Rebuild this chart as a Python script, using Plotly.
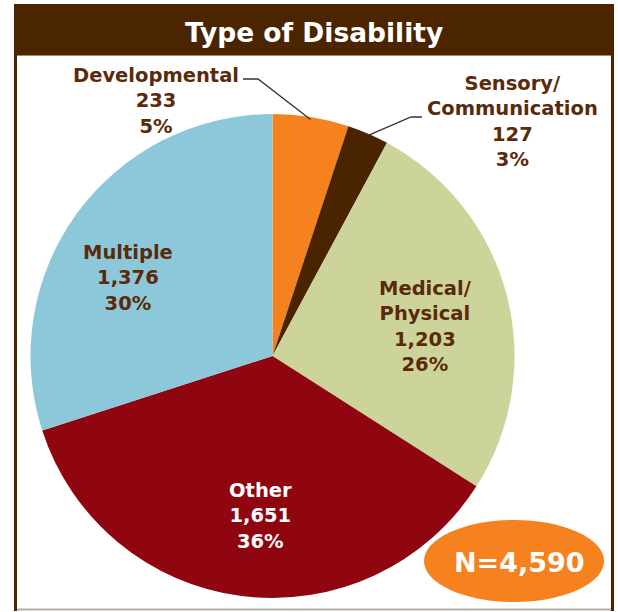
import math
import plotly.graph_objs as go

# data
categories = ['Developmental', 'Sensory/<br>Communication', 'Medical/<br>Physical', 'Other', 'Multiple']
counts = [233, 127, 1203, 1651, 1376]
colors = ['#F5821F', '#4A2400', '#CDD49A', '#8F0610', '#8CC8DA']
label_colors = ['#5A2A0A', '#5A2A0A', '#5A2A0A', '#FFFFFF', '#5A2A0A']

W, H = 618, 612
total = sum(counts)

# pie geometry in pixels
cx, cy, r = 272.5, 356, 242

def px(x):
    return x / W

def py(y):
    return 1 - y / H

# label centres (pixels) for each slice
label_pos = [(156, 101), (512, 122), (425, 326), (260, 516), (128, 278)]

pie = go.Pie(
    labels=[c.replace('<br>', ' ') for c in categories],
    values=counts,
    sort=False,
    direction='clockwise',
    rotation=0,
    marker=dict(colors=colors, line=dict(width=0)),
    textinfo='none',
    hoverinfo='label+value+percent',
    showlegend=False,
    domain=dict(x=[px(cx - r), px(cx + r)], y=[py(cy + r), py(cy - r)])
)

annotations = []
for cat, n, col, (lx, ly) in zip(categories, counts, label_colors, label_pos):
    pct = round(100 * n / total)
    annotations.append(dict(
        x=px(lx), y=py(ly), xref='paper', yref='paper',
        text=f'{cat}<br>{n:,}<br>{pct}%',
        showarrow=False, xanchor='center', yanchor='middle', align='center',
        font=dict(family='DejaVu Sans', size=19.5, color=col, weight='bold')
    ))

# title
annotations.append(dict(
    x=px(314), y=py(32), xref='paper', yref='paper', text='Type of Disability',
    showarrow=False, xanchor='center', yanchor='middle',
    font=dict(family='DejaVu Sans', size=26.5, color='white', weight='bold')
))

# N badge text
annotations.append(dict(
    x=px(519), y=py(562), xref='paper', yref='paper', text=f'N={total:,}',
    showarrow=False, xanchor='center', yanchor='middle',
    font=dict(family='DejaVu Sans', size=27, color='white', weight='bold')
))

def edge_point(i, frac=1.0):
    before = sum(counts[:i])
    mid = (before + counts[i] / 2) / total * 2 * math.pi
    return cx + r * frac * math.sin(mid), cy - r * frac * math.cos(mid)

brown = '#4A2500'
shapes = [
    # title bar
    dict(type='rect', xref='paper', yref='paper', x0=px(14), x1=px(614), y0=py(55), y1=py(4),
         fillcolor=brown, line=dict(width=0), layer='below'),
    dict(type='line', xref='paper', yref='paper', x0=px(17), x1=px(611), y0=py(55.5), y1=py(55.5),
         line=dict(color='#A88A6A', width=1)),
    # side borders
    dict(type='line', xref='paper', yref='paper', x0=px(15.5), x1=px(15.5), y0=py(55), y1=py(611),
         line=dict(color=brown, width=3)),
    dict(type='line', xref='paper', yref='paper', x0=px(612.5), x1=px(612.5), y0=py(55), y1=py(611),
         line=dict(color=brown, width=3)),
    dict(type='line', xref='paper', yref='paper', x0=px(17), x1=px(611), y0=py(609.5), y1=py(609.5),
         line=dict(color='#B5ADA5', width=2)),
    # N badge
    dict(type='circle', xref='paper', yref='paper', x0=px(424), x1=px(604), y0=py(602), y1=py(520),
         fillcolor='#F5821F', line=dict(width=0)),
]

# leader lines for the two small slices: (slice index, text end x, text end y, knee x)
leaders = [(0, 243, 79, 258), (1, 422, 117, 411)]
for i, x0, y0, k in leaders:
    ex, ey = edge_point(i, 0.99)
    path = f'M {px(x0)} {py(y0)} L {px(k)} {py(y0)} L {px(ex)} {py(ey)}'
    shapes.append(dict(type='path', xref='paper', yref='paper', path=path,
                       line=dict(color='#333333', width=1.3)))

layout = go.Layout(
    width=W, height=H,
    margin=dict(l=0, r=0, t=0, b=0),
    paper_bgcolor='white',
    annotations=annotations,
    shapes=shapes
)

fig = go.Figure(data=[pie], layout=layout)
# drop the default page margin so the figure sits at the window's top-left corner
fig.write_html('out.html', config={'displayModeBar': False},
               post_script="document.body.style.margin = '0';")
